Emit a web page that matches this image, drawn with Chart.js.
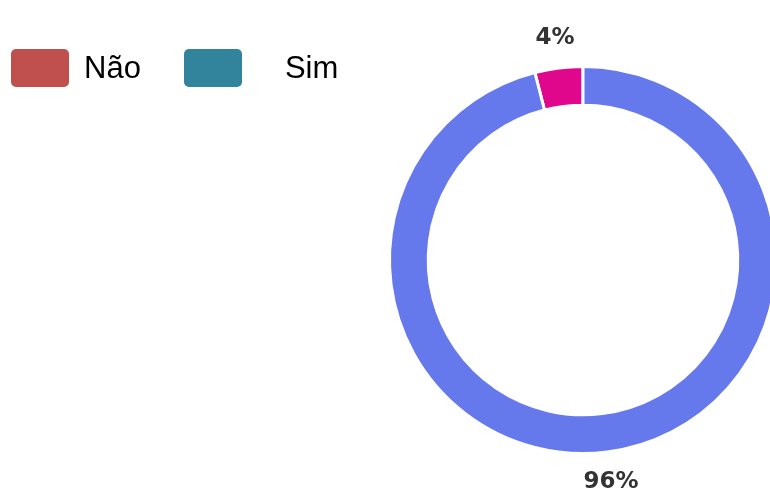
<!DOCTYPE html>
<html lang="pt">
<head>
<meta charset="UTF-8">
<script src="https://cdn.jsdelivr.net/npm/chart.js"></script>
<title>Não / Sim</title>
<style>
  html, body { margin: 0; padding: 0; background: #fff; overflow: hidden; }
  body { width: 770px; height: 496px; position: relative; }
  .wrap { position: absolute; left: 0; top: 0; width: 790px; height: 496px; }
  #legend {
    position: absolute; left: 11px; top: 49px;
    display: flex; align-items: center;
    font-family: "Liberation Sans", Arial, sans-serif; font-size: 31px; color: #000;
  }
  .item { display: flex; align-items: center; }
  .item + .item { margin-left: 43px; }
  .box { width: 58px; height: 38px; border-radius: 5px; }
  .label { margin-left: 15px; }
  .item + .item .label { margin-left: 43px; }
</style>
</head>
<body>
  <div class="wrap"><canvas id="pie"></canvas></div>
  <div id="legend"></div>
<script>
  const labels = ['Não', 'Sim'];
  const values = [4, 96];
  const sliceColors = ['#e0078d', '#6578ec'];
  const legendColors = ['#c0504d', '#31849b'];

  const total = values.reduce((a, b) => a + b, 0);
  const pctText = values.map(v => Math.round(v / total * 100) + '%');

  // legend (colours differ from the slices in the original)
  const legend = document.getElementById('legend');
  labels.forEach((lab, i) => {
    const item = document.createElement('div');
    item.className = 'item';
    item.innerHTML = '<span class="box" style="background:' + legendColors[i] + '"></span><span class="label">' + lab + '</span>';
    legend.appendChild(item);
  });

  // percent labels outside the ring
  const pctLabels = {
    id: 'pctLabels',
    afterDatasetsDraw(chart) {
      const ctx = chart.ctx;
      const meta = chart.getDatasetMeta(0);
      ctx.save();
      ctx.font = 'bold 23px "DejaVu Sans", sans-serif';
      ctx.fillStyle = '#333';
      ctx.textAlign = 'center';
      ctx.textBaseline = 'middle';
      meta.data.forEach((arc, i) => {
        const p = arc.getProps(['x', 'y', 'startAngle', 'endAngle', 'outerRadius'], true);
        const mid = (p.startAngle + p.endAngle) / 2;
        const r = p.outerRadius + 30;
        ctx.fillText(pctText[i], p.x + Math.cos(mid) * r, p.y + Math.sin(mid) * r);
      });
      ctx.restore();
    }
  };

  new Chart(document.getElementById('pie'), {
    type: 'doughnut',
    data: {
      labels: labels,
      datasets: [{
        data: values,
        backgroundColor: sliceColors,
        borderColor: '#fff',
        borderWidth: 3
      }]
    },
    options: {
      responsive: true,
      maintainAspectRatio: false,
      animation: false,
      cutout: '80%',
      rotation: -360 * values[0] / total,
      layout: { padding: { left: 388, right: 12, top: 64, bottom: 40 } },
      plugins: {
        legend: { display: false },
        tooltip: { enabled: false }
      }
    },
    plugins: [pctLabels]
  });
</script>
</body>
</html>
